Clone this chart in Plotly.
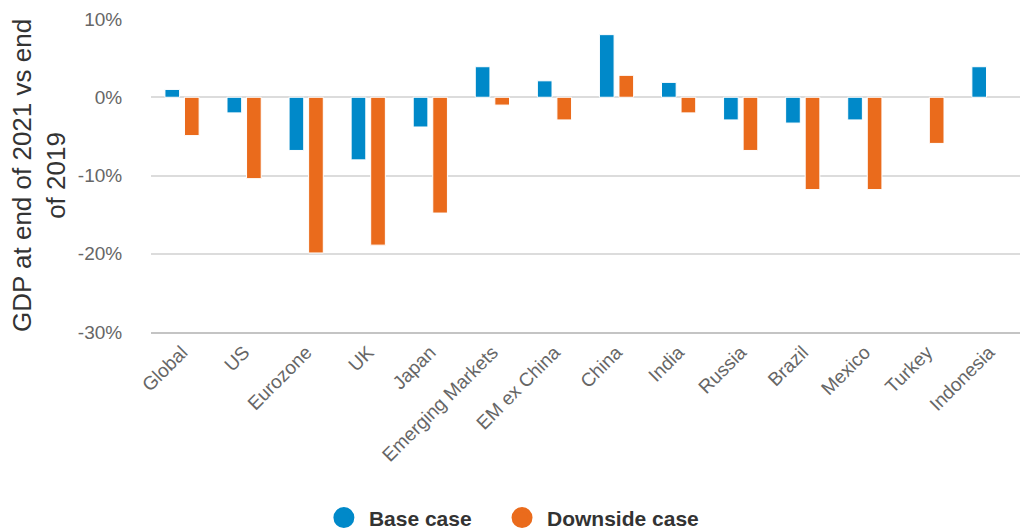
import plotly.graph_objects as go

categories = ["Global", "US", "Eurozone", "UK", "Japan", "Emerging Markets", "EM ex China",
              "China", "India", "Russia", "Brazil", "Mexico", "Turkey", "Indonesia"]
base_case = [1.0, -2.0, -6.8, -8.0, -3.8, 3.9, 2.1, 8.0, 1.9, -2.9, -3.3, -2.9, None, 3.9]
downside_case = [-4.9, -10.4, -19.9, -18.9, -14.8, -1.0, -2.9, 2.8, -2.0, -6.8, -11.8, -11.8, -5.9, None]
y_ticks = [10, 0, -10, -20, -30]
y_tick_labels = ["10%", "0%", "-10%", "-20%", "-30%"]

BLUE = "#0089C9"
ORANGE = "#EA6B1C"

fig = go.Figure()
fig.add_trace(go.Bar(x=categories, y=base_case, name="Base case", marker_color=BLUE,
                     marker_line=dict(color="white", width=1), showlegend=False))
fig.add_trace(go.Bar(x=categories, y=downside_case, name="Downside case", marker_color=ORANGE,
                     marker_line=dict(color="white", width=1), showlegend=False))
# legend entries with circle markers
for name, col, lg in [("Base case", BLUE, "legend"), ("Downside case", ORANGE, "legend2")]:
    fig.add_trace(go.Scatter(x=[None], y=[None], mode="markers", name=name, legend=lg,
                             marker=dict(color=col, size=16, line=dict(color=col, width=5))))

legend_common = dict(orientation="h", xref="paper", yref="paper", xanchor="left",
                     y=-0.594, yanchor="middle",
                     font=dict(size=21, color="#333333", weight="bold"),
                     itemsizing="trace", itemwidth=40, bgcolor="rgba(0,0,0,0)")

fig.update_layout(
    width=1022, height=529,
    margin=dict(l=151, r=2, t=19, b=197, autoexpand=False),
    plot_bgcolor="white", paper_bgcolor="white",
    barmode="group", bargap=0.37, bargroupgap=0.25,
    font=dict(family="Liberation Sans, Arial, sans-serif", color="#666666"),
    legend=dict(x=0.1932, **legend_common),
    legend2=dict(x=0.3982, **legend_common),
    xaxis=dict(tickangle=-45, tickfont=dict(size=19, color="#666666"), showline=True,
               linecolor="#c4c4c4", linewidth=1.5, showgrid=False, ticks="", automargin=False),
    yaxis=dict(range=[-30, 10], tickvals=y_ticks, ticktext=y_tick_labels, automargin=False,
               tickfont=dict(size=19, color="#666666"), showgrid=True, gridcolor="#dcdcdc",
               gridwidth=1.5, zeroline=True, zerolinecolor="#dcdcdc", zerolinewidth=1.5,
               ticks="outside", ticklen=24, tickcolor="rgba(0,0,0,0)",
               title=dict(text="GDP at end of 2021 vs end<br>of 2019", standoff=4,
                          font=dict(size=26, color="#333333"))),
)

fig.write_html("out.html")
